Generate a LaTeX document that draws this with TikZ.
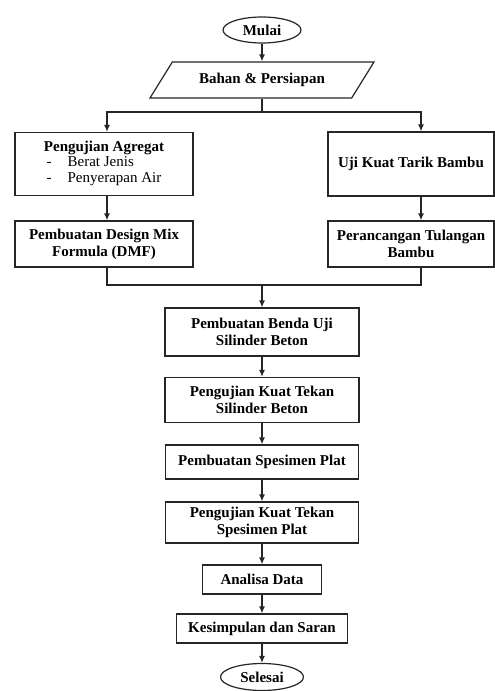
\documentclass[tikz,border=0pt]{standalone}
\usepackage{fontspec}
\setmainfont{Liberation Serif}
\usetikzlibrary{arrows.meta,shapes.geometric}

\tikzset{
  box/.style={rectangle,draw=black!85,line width=1.2pt,align=center,inner sep=2pt,
    font=\fontsize{15}{17}\selectfont\bfseries},
  terminal/.style={ellipse,draw=black!85,line width=1.2pt,inner sep=0pt,
    font=\fontsize{15}{17}\selectfont\bfseries},
  io/.style={trapezium,trapezium left angle=41,trapezium right angle=139,
    trapezium stretches=true,draw=black!85,line width=1.2pt,inner sep=0pt,
    font=\fontsize{15}{17}\selectfont\bfseries},
  line/.style={line width=1.3pt,black!85},
  arrow/.style={line,-{Latex[length=7pt,width=6pt]}}
}

\begin{document}
\begin{tikzpicture}[x=1pt,y=-1pt]
    \useasboundingbox (0,0) rectangle (495,691);

    % Start and preparation
    \node[terminal,minimum width=78pt,minimum height=26pt] (mulai) at (262,30) {Mulai};
    \node[io,minimum width=224pt,minimum height=36pt] (bahan) at (262,80) {Bahan \& Persiapan};

    % Left branch
    \node[box,minimum width=178pt,minimum height=63pt] (agregat) at (104,164)
        {Pengujian Agregat\\[-2pt]
         \mdseries\renewcommand\arraystretch{0.92}%
         \begin{tabular}[t]{@{}l@{\hspace{16pt}}l@{}}-&Berat Jenis\\-&Penyerapan Air\end{tabular}};
    \node[box,minimum width=178pt,minimum height=46pt] (dmf) at (104,244)
        {Pembuatan Design Mix\\Formula (DMF)};

    % Right branch
    \node[box,minimum width=166pt,minimum height=64pt] (tarik) at (411,164) {Uji Kuat Tarik Bambu};
    \node[box,minimum width=166pt,minimum height=46pt] (tulangan) at (411,244)
        {Perancangan Tulangan\\Bambu};

    % Main column
    \node[box,minimum width=194pt,minimum height=48pt] (benda) at (262,332)
        {Pembuatan Benda Uji\\Silinder Beton};
    \node[box,minimum width=194pt,minimum height=45pt] (silinder) at (262,400)
        {Pengujian Kuat Tekan\\Silinder Beton};
    \node[box,minimum width=193pt,minimum height=34pt] (spesimen) at (262,462)
        {Pembuatan Spesimen Plat};
    \node[box,minimum width=193pt,minimum height=41pt] (plat) at (262,522.5)
        {Pengujian Kuat Tekan\\Spesimen Plat};
    \node[box,minimum width=119pt,minimum height=29pt] (analisa) at (262,579.5) {Analisa Data};
    \node[box,minimum width=171pt,minimum height=29pt] (kesimpulan) at (262,628.5)
        {Kesimpulan dan Saran};
    \node[terminal,minimum width=83pt,minimum height=27pt] (selesai) at (262,677) {Selesai};

    % Split and merge points
    \coordinate (split) at (262,112);
    \coordinate (merge) at (262,285);

    % Connectors
    \draw[arrow] (mulai) -- (bahan);
    \draw[line] (bahan) -- (split);
    \draw[arrow] (split) -| ([xshift=3pt]agregat.north);
    \draw[arrow] (split) -| ([xshift=10pt]tarik.north);
    \draw[arrow] ([xshift=3pt]agregat.south) -- ([xshift=3pt]dmf.north);
    \draw[arrow] ([xshift=10pt]tarik.south) -- ([xshift=10pt]tulangan.north);
    \draw[line] ([xshift=3pt]dmf.south) |- (merge);
    \draw[line] ([xshift=10pt]tulangan.south) |- (merge);
    \draw[arrow] (merge) -- (benda);
    \draw[arrow] (benda) -- (silinder);
    \draw[arrow] (silinder) -- (spesimen);
    \draw[arrow] (spesimen) -- (plat);
    \draw[arrow] (plat) -- (analisa);
    \draw[arrow] (analisa) -- (kesimpulan);
    \draw[arrow] (kesimpulan) -- (selesai);
\end{tikzpicture}
\end{document}
